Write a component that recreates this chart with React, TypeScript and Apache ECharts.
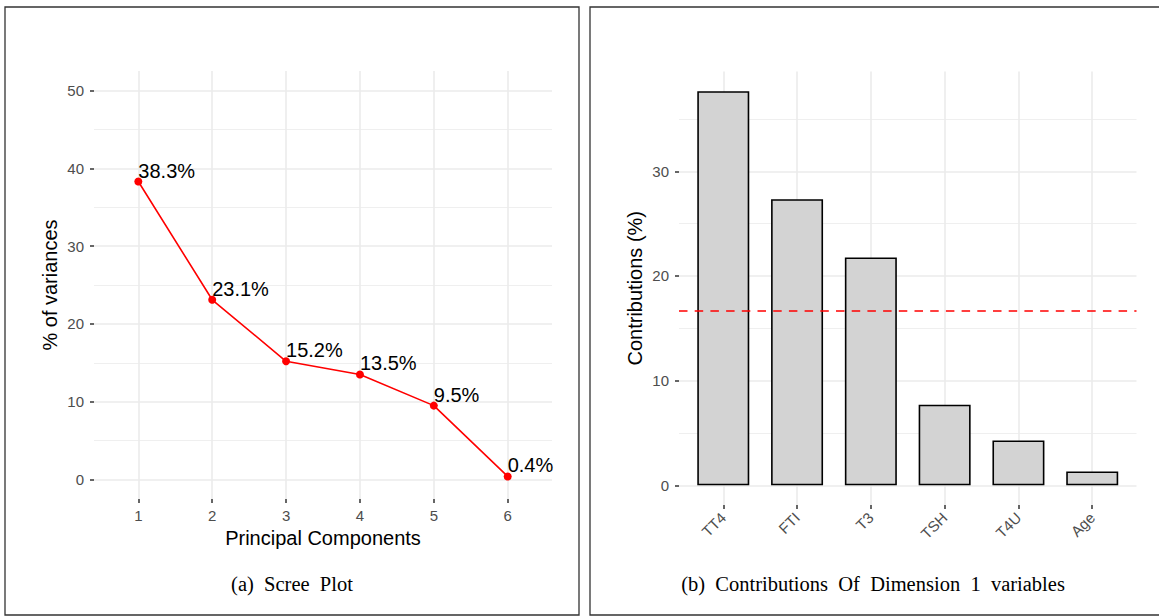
import React, { useEffect, useRef } from "react";
import * as echarts from "echarts";

// ---- Data ----
const components = [1, 2, 3, 4, 5, 6];
const variancePct = [38.3, 23.1, 15.2, 13.5, 9.5, 0.4];

const variables = ["TT4", "FTI", "T3", "TSH", "T4U", "Age"];
const contributions = [37.65, 27.33, 21.77, 7.7, 4.28, 1.32];
const expectedContribution = 16.67;

const screeMajorTicks = [0, 10, 20, 30, 40, 50];
const screeMinorTicks = [5, 15, 25, 35, 45];
const contribMajorTicks = [0, 10, 20, 30];
const contribMinorTicks = [5, 15, 25, 35];

const SANS = '"Liberation Sans", Arial, Helvetica, sans-serif';
const SERIF = '"Liberation Serif", "Times New Roman", serif';
const GRID_COLOR = "#EBEBEB";
const TICK_TEXT = "#4D4D4D";

export default function App() {
  const ref = useRef<HTMLDivElement>(null);

  useEffect(() => {
    if (!ref.current) return;
    const chart = echarts.init(ref.current, undefined, { renderer: "svg" });

    const xCommon = (customIdx: number[]) => ({
      type: "value" as const,
      min: 0.4,
      max: 6.6,
      axisLine: { show: false, onZero: false },
      axisTick: {
        show: true,
        length: 4,
        customValues: customIdx,
        lineStyle: { color: "#333333", width: 1.5 },
      },
      splitLine: { show: true, lineStyle: { color: GRID_COLOR, width: 1.6 } },
    });

    const majorY = (min: number, max: number, ticks: number[], name: string, nameGap: number, gridIndex: number) => ({
      type: "value" as const,
      gridIndex,
      min,
      max,
      name,
      nameLocation: "middle" as const,
      nameGap,
      nameTextStyle: { color: "#000", fontSize: 20, fontFamily: SANS },
      axisLine: { show: false, onZero: false },
      axisTick: {
        show: true,
        length: 4,
        customValues: ticks,
        lineStyle: { color: "#333333", width: 1.5 },
      },
      axisLabel: {
        customValues: ticks,
        color: TICK_TEXT,
        fontSize: 15,
        fontFamily: SANS,
        margin: 10,
      },
      splitLine: { show: true, lineStyle: { color: GRID_COLOR, width: 1.6 } },
    });

    const minorY = (min: number, max: number, ticks: number[], gridIndex: number) => ({
      type: "value" as const,
      gridIndex,
      min,
      max,
      position: "left" as const,
      axisLine: { show: false, onZero: false },
      axisTick: { show: false, customValues: ticks },
      axisLabel: { show: false, customValues: ticks },
      splitLine: { show: true, lineStyle: { color: GRID_COLOR, width: 0.8 } },
    });

    const option = {
      animation: false,
      backgroundColor: "#ffffff",
      textStyle: { fontFamily: SANS },
      grid: [
        { left: 94, top: 71, width: 458, height: 428 },
        { left: 679, top: 71.5, width: 457.5, height: 433.5 },
      ],
      xAxis: [
        {
          ...xCommon(components),
          gridIndex: 0,
          name: "Principal Components",
          nameLocation: "middle",
          nameGap: 29,
          nameTextStyle: { color: "#000", fontSize: 20, fontFamily: SANS },
          axisLabel: {
            customValues: components,
            color: TICK_TEXT,
            fontSize: 15,
            fontFamily: SANS,
            margin: 9,
          },
        },
        {
          ...xCommon(components),
          gridIndex: 1,
          axisLabel: {
            customValues: components,
            formatter: (v: number) => variables[Math.round(v) - 1] ?? "",
            rotate: 45,
            color: TICK_TEXT,
            fontSize: 15,
            fontFamily: SANS,
            margin: 10,
          },
        },
      ],
      yAxis: [
        majorY(-2.5, 52.5, screeMajorTicks, "% of variances", 34, 0),
        minorY(-2.5, 52.5, screeMinorTicks, 0),
        majorY(-1.88, 39.53, contribMajorTicks, "Contributions (%)", 34, 1),
        minorY(-1.88, 39.53, contribMinorTicks, 1),
      ],
      series: [
        {
          type: "line",
          xAxisIndex: 0,
          yAxisIndex: 0,
          data: components.map((c, i) => [c, variancePct[i]]),
          symbol: "circle",
          symbolSize: 8,
          itemStyle: { color: "#FF0000" },
          lineStyle: { color: "#FF0000", width: 1.6 },
          label: {
            show: true,
            position: [4, 3],
            align: "left",
            verticalAlign: "bottom",
            color: "#000",
            fontSize: 20,
            fontFamily: SANS,
            formatter: (p: any) => `${p.value[1]}%`,
          },
          z: 5,
        },
        {
          type: "bar",
          xAxisIndex: 1,
          yAxisIndex: 2,
          data: components.map((c, i) => [c, contributions[i]]),
          barWidth: 52,
          itemStyle: { color: "#D3D3D3", borderColor: "#000", borderWidth: 1.6 },
          markLine: {
            silent: true,
            symbol: "none",
            label: { show: false },
            lineStyle: { color: "#FF0000", type: [8.5, 7.2], width: 1.6 },
            data: [{ yAxis: expectedContribution }],
          },
          z: 3,
        },
      ],
      graphic: [
        {
          type: "rect",
          shape: { x: 5, y: 7, width: 574, height: 608 },
          style: { fill: "none", stroke: "#333333", lineWidth: 1.3 },
          silent: true,
        },
        {
          type: "rect",
          shape: { x: 590, y: 7, width: 600, height: 608 },
          style: { fill: "none", stroke: "#333333", lineWidth: 1.3 },
          silent: true,
        },
        {
          type: "text",
          x: 292,
          y: 584,
          style: {
            text: "(a)  Scree  Plot",
            font: `20.5px ${SERIF}`,
            fill: "#000",
            align: "center",
            verticalAlign: "middle",
          },
          silent: true,
        },
        {
          type: "text",
          x: 873,
          y: 584,
          style: {
            text: "(b)  Contributions  Of  Dimension  1  variables",
            font: `20.5px ${SERIF}`,
            fill: "#000",
            align: "center",
            verticalAlign: "middle",
          },
          silent: true,
        },
      ],
    };

    chart.setOption(option as any);
    return () => chart.dispose();
  }, []);

  return (
    <div
      ref={ref}
      style={{ position: "absolute", left: 0, top: 0, width: 1159, height: 616 }}
    />
  );
}
